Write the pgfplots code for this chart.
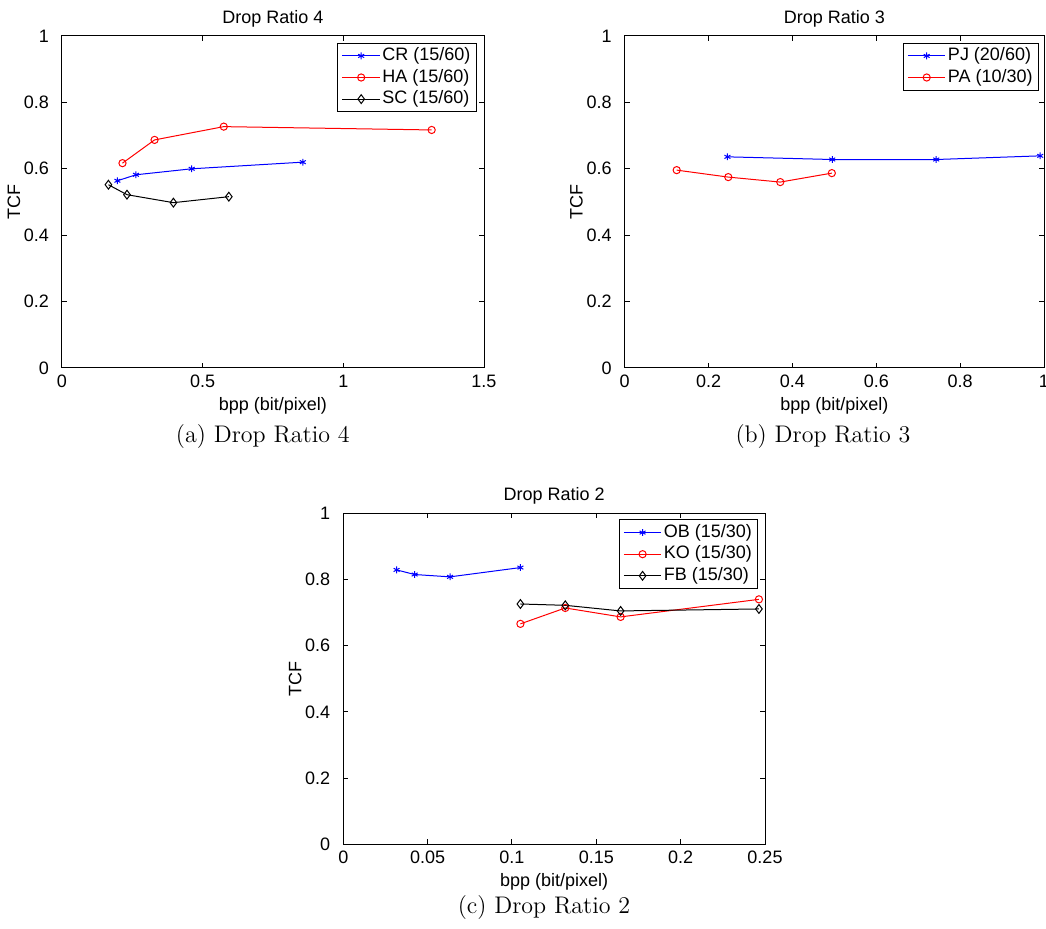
\documentclass[border=0pt]{standalone}
\usepackage{fontspec}
\usepackage{pgfplots}
\pgfplotsset{compat=1.18}
\newfontfamily\helv{Liberation Sans}

\pgfplotsset{
  matfig/.style={
    scale only axis, anchor=south west,
    ymin=0, ymax=1, ytick={0,0.2,0.4,0.6,0.8,1},
    tick align=inside, xtick pos=both, ytick pos=both,
    xticklabel pos=lower, yticklabel pos=left,
    major tick length=2.5pt,
    every tick/.style={black, line width=0.5pt},
    axis line style={line width=0.5pt},
    /pgf/number format/assume math mode=true,
    /pgf/number format/fixed, /pgf/number format/precision=2,
    scaled ticks=false,
    tick label style={font=\helv\fontsize{9}{10}\selectfont},
    yticklabel style={xshift=-3pt},
    label style={font=\helv\fontsize{9}{10}\selectfont},
    xlabel style={yshift=2pt},
    ylabel style={yshift=-5pt},
    title style={font=\helv\fontsize{9}{10}\selectfont, at={(0.5,1)}, anchor=south, yshift=-5pt},
    xlabel={bpp (bit/pixel)}, ylabel={TCF},
    legend cell align=left,
    legend style={font=\helv\fontsize{9}{10}\selectfont, draw=black, line width=0.5pt,
      inner xsep=2pt, inner ysep=1pt, at={(1,1)}, anchor=north east,
      nodes={text height=6.8pt, text depth=2pt, inner sep=1pt}},
    legend image code/.code={\draw[mark repeat=2, mark phase=2]
      plot coordinates {(0cm,0cm) (0.33cm,0cm) (0.66cm,0cm)};},
    every axis plot/.append style={line width=0.5pt},
  },
  sblue/.style={color=blue, mark=asterisk, mark size=1.7pt},
  sred/.style={color=red, mark=o, mark size=1.8pt},
  sblack/.style={color=black, mark=diamond, mark size=2.2pt},
}

\begin{document}
\begin{tikzpicture}
\useasboundingbox (0,0) rectangle (523pt,464pt);

% (a) drop ratio 4
\begin{axis}[matfig, at={(31pt,280pt)}, width=211pt, height=166pt,
  title={Drop Ratio 4}, xmin=0, xmax=1.5, xtick={0,0.5,1,1.5},
  legend style={xshift=-3.5pt, yshift=-3.3pt}]
\addplot[sblue] coordinates {(0.197,0.564) (0.263,0.582) (0.461,0.600) (0.856,0.620)};
\addplot[sred] coordinates {(0.215,0.617) (0.329,0.687) (0.575,0.727) (1.314,0.717)};
\addplot[sblack] coordinates {(0.165,0.552) (0.231,0.522) (0.396,0.498) (0.593,0.516)};
\legend{CR (15/60), HA (15/60), SC (15/60)}
\end{axis}

% (b) drop ratio 3
\begin{axis}[matfig, at={(312.35pt,280pt)}, width=209.65pt, height=166pt,
  title={Drop Ratio 3}, xmin=0, xmax=1, xtick={0,0.2,0.4,0.6,0.8,1},
  legend style={xshift=-2.4pt, yshift=-3.3pt}]
\addplot[sblue] coordinates {(0.245,0.636) (0.495,0.628) (0.743,0.628) (0.991,0.639)};
\addplot[sred] coordinates {(0.124,0.596) (0.247,0.575) (0.371,0.560) (0.494,0.587)};
\legend{PJ (20/60), PA (10/30)}
\end{axis}

% (c) drop ratio 2
\begin{axis}[matfig, at={(171.65pt,41.85pt)}, width=210.85pt, height=165.5pt,
  title={Drop Ratio 2}, xmin=0, xmax=0.25, xtick={0,0.05,0.1,0.15,0.2,0.25},
  xticklabels={0,0.05,0.1,0.15,0.2,0.25},
  legend style={xshift=-3.3pt, yshift=-3pt}]
\addplot[sblue] coordinates {(0.0316,0.829) (0.0423,0.815) (0.0633,0.808) (0.105,0.836)};
\addplot[sred] coordinates {(0.105,0.666) (0.1316,0.714) (0.1644,0.687) (0.2464,0.740)};
\addplot[sblack] coordinates {(0.105,0.726) (0.1316,0.722) (0.1644,0.705) (0.2464,0.711)};
\legend{OB (15/30), KO (15/30), FB (15/30)}
\end{axis}

\node[font=\fontsize{12}{14}\selectfont] at (131.4pt,245.5pt) {(a) Drop Ratio 4};
\node[font=\fontsize{12}{14}\selectfont] at (411.5pt,245.5pt) {(b) Drop Ratio 3};
\node[font=\fontsize{12}{14}\selectfont] at (272pt,10pt) {(c) Drop Ratio 2};
\end{tikzpicture}
\end{document}
